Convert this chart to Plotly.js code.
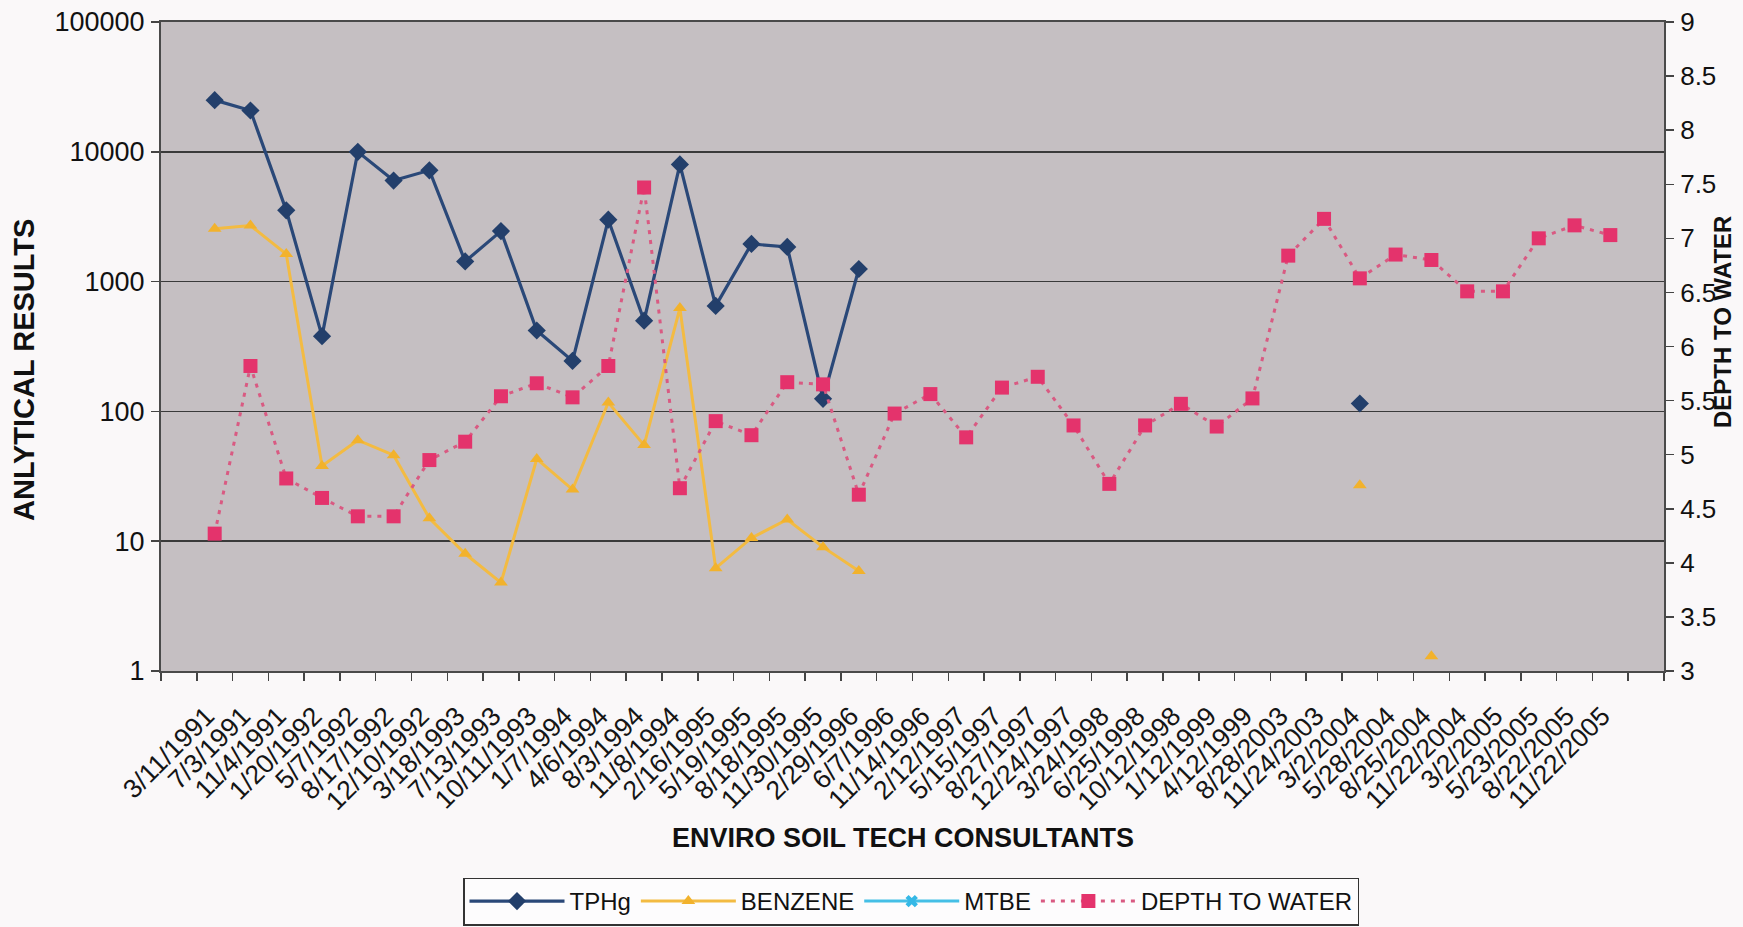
<!DOCTYPE html>
<html>
<head>
<meta charset="utf-8">
<script src="https://cdn.plot.ly/plotly-3.0.1.min.js"></script>
<style>
  html, body { margin: 0; padding: 0; background: #faf8f9; }
  #chart { width: 1743px; height: 927px; }
</style>
</head>
<body>
<div id="chart"></div>
<script>
// ---- data ----
const dates = ["3/11/1991","7/3/1991","11/4/1991","1/20/1992","5/7/1992","8/17/1992","12/10/1992",
  "3/18/1993","7/13/1993","10/11/1993","1/7/1994","4/6/1994","8/3/1994","11/8/1994","2/16/1995",
  "5/19/1995","8/18/1995","11/30/1995","2/29/1996","6/7/1996","11/14/1996","2/12/1997","5/15/1997",
  "8/27/1997","12/24/1997","3/24/1998","6/25/1998","10/12/1998","1/12/1999","4/12/1999","8/28/2003",
  "11/24/2003","3/2/2004","5/28/2004","8/25/2004","11/22/2004","3/2/2005","5/23/2005","8/22/2005",
  "11/22/2005"];

const tphg = [25000,20800,3540,380,10000,6000,7200,1430,2450,420,245,3000,500,8000,650,1950,1850,125,1250,
  null,null,null,null,null,null,null,null,null,null,null,null,null,115,null,null,null,null,null,null,null];

const benzene = [2550,2700,1630,38,60,46,15,8,4.8,43,25,117,55,625,6.2,10.6,14.7,9,5.9,
  null,null,null,null,null,null,null,null,null,null,null,null,null,27,null,1.3,null,null,null,null,null];

const mtbe = [null,null,null,null,null,null,null,null,null,null,null,null,null,null,null,null,null,null,null,null,
  null,null,null,null,null,null,null,null,null,null,null,null,null,null,null,null,null,null,null,null];

const depth = [4.27,5.82,4.78,4.60,4.43,4.43,4.95,5.12,5.54,5.66,5.53,5.82,7.47,4.69,5.31,5.18,5.67,5.65,4.63,
  5.38,5.56,5.16,5.62,5.72,5.27,4.73,5.27,5.47,5.26,5.52,6.84,7.18,6.63,6.85,6.80,6.51,6.51,7.00,7.12,7.03];

const leftTickVals = [1,10,100,1000,10000,100000];
const leftTickText = ["1","10","100","1000","10000","100000"];

// ---- geometry (pixels) ----
const W = 1743, H = 927;
const mL = 161, mR = 79, mT = 22, mB = 256;
const plotW = W - mL - mR, plotH = H - mT - mB;
const px = x => (x - mL) / plotW;
const py = y => (H - mB - y) / plotH;

const FONT = '"Liberation Sans", Arial, sans-serif';
// blank slot before and after the dated categories, as on the original category axis
const cats = [" "].concat(dates, ["  "]);

const traces = [
  { name: "TPHg", x: dates, y: tphg, type: "scatter", mode: "lines+markers",
    connectgaps: false,
    line: { color: "#2a4878", width: 3.2 },
    marker: { symbol: "diamond", size: 14, color: "#233f6b" } },
  { name: "BENZENE", x: dates, y: benzene, type: "scatter", mode: "lines+markers",
    connectgaps: false,
    line: { color: "#f3bb42", width: 3 },
    marker: { symbol: "triangle-up", size: 12, color: "#f2b22c" } },
  { name: "MTBE", x: dates, y: mtbe, type: "scatter", mode: "lines+markers",
    line: { color: "#45bfe6", width: 3 },
    marker: { symbol: "x", size: 11, color: "#35b8e6" } },
  { name: "DEPTH TO WATER", x: dates, y: depth, type: "scatter", mode: "lines+markers",
    yaxis: "y2",
    line: { color: "#d95a82", width: 3, dash: "4px,6px" },
    marker: { symbol: "square", size: 14, color: "#e4336c" } }
];

const layout = {
  width: W, height: H,
  margin: { l: mL, r: mR, t: mT, b: mB, pad: 0, autoexpand: false },
  paper_bgcolor: "#faf8f9",
  plot_bgcolor: "#c5bfc2",
  font: { family: FONT, size: 22, color: "#111" },
  showlegend: true,
  xaxis: {
    type: "category",
    categoryorder: "array",
    categoryarray: cats,
    range: [-0.5, cats.length - 0.5],
    tickson: "boundaries",
    ticks: "outside", ticklen: 8, tickwidth: 1.5, tickcolor: "#444",
    tickangle: -45,
    tickfont: { family: FONT, size: 26.5, color: "#151515" },
    ticklabelstandoff: 17,
    ticklabelshift: -8,
    showgrid: false,
    showline: true, linecolor: "#4a4a4a", linewidth: 2, mirror: true,
    zeroline: false, fixedrange: true, automargin: false
  },
  yaxis: {
    type: "log",
    range: [0, 5],
    tickmode: "array",
    tickvals: leftTickVals, ticktext: leftTickText,
    ticks: "outside", ticklen: 8, tickwidth: 1.5, tickcolor: "#444",
    tickfont: { family: FONT, size: 27, color: "#111" },
    ticklabelstandoff: 1,
    showgrid: true, gridcolor: "#3a3a3a", gridwidth: 1.6,
    showline: true, linecolor: "#4a4a4a", linewidth: 2,
    zeroline: false, fixedrange: true, automargin: false
  },
  yaxis2: {
    overlaying: "y", side: "right",
    range: [3, 9], dtick: 0.5, tick0: 3,
    ticks: "outside", ticklen: 8, tickwidth: 1.5, tickcolor: "#444",
    tickfont: { family: FONT, size: 26, color: "#111" },
    ticklabelstandoff: 1,
    showgrid: false,
    showline: true, linecolor: "#4a4a4a", linewidth: 2,
    zeroline: false, fixedrange: true, automargin: false
  },
  legend: {
    orientation: "h",
    x: px(911), y: py(901.5), xanchor: "center", yanchor: "middle",
    bgcolor: "#fdfcfd", bordercolor: "#333", borderwidth: 1.5,
    font: { family: FONT, size: 24, color: "#111" },
    itemwidth: 95,
    traceorder: "normal"
  },
  annotations: [
    { text: "<b>ANLYTICAL RESULTS</b>", xref: "paper", yref: "paper",
      x: px(24), y: py(370), xanchor: "center", yanchor: "middle",
      textangle: -90, showarrow: false,
      font: { family: FONT, size: 29, color: "#111" } },
    { text: "<b>DEPTH TO WATER</b>", xref: "paper", yref: "paper",
      x: px(1722), y: py(322), xanchor: "center", yanchor: "middle",
      textangle: -90, showarrow: false,
      font: { family: FONT, size: 24, color: "#111" } },
    { text: "<b>ENVIRO SOIL TECH CONSULTANTS</b>", xref: "paper", yref: "paper",
      x: px(903), y: py(838), xanchor: "center", yanchor: "middle",
      showarrow: false,
      font: { family: FONT, size: 27, color: "#111" } }
  ]
};

Plotly.newPlot("chart", traces, layout, { displayModeBar: false, staticPlot: true });
</script>
</body>
</html>
